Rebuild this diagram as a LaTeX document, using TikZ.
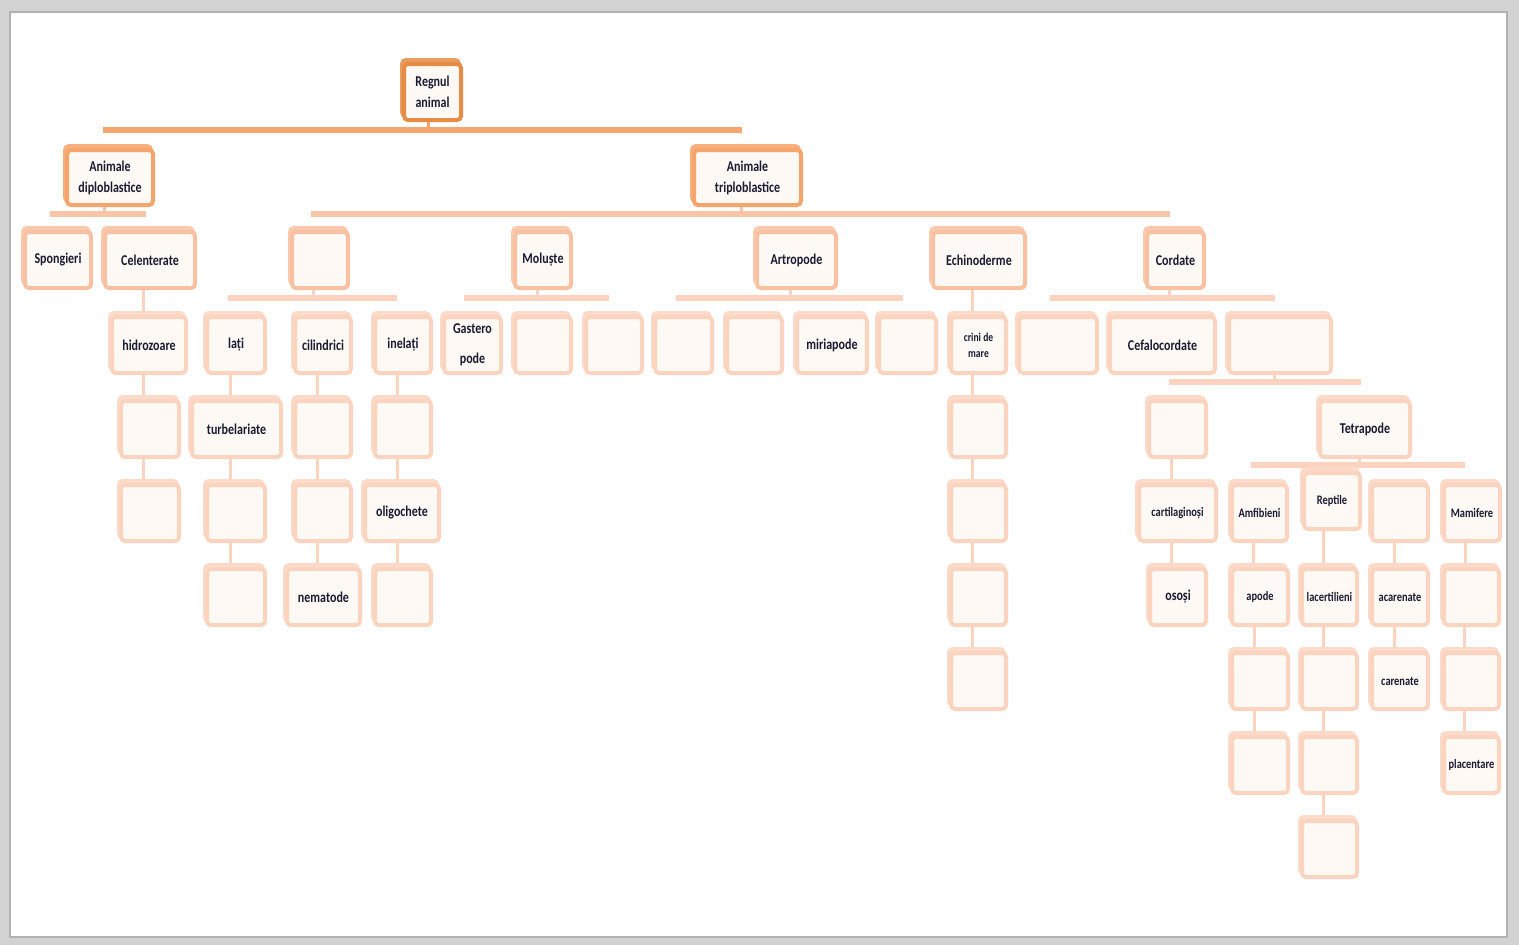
\documentclass[tikz,border=0pt]{standalone}
\usepackage{fontspec}
\setmainfont[FakeStretch=0.8]{Carlito}
\usepackage{tikz}
\usetikzlibrary{shadows}

\definecolor{c0}{HTML}{E58C46}
\definecolor{c0b}{HTML}{EC9B5E}
\definecolor{c1}{HTML}{F5A46C}
\definecolor{c1b}{HTML}{F7AF7E}
\definecolor{c2}{HTML}{F8C2A2}
\definecolor{c2b}{HTML}{FAC9AD}
\definecolor{c3}{HTML}{FBD4BF}
\definecolor{c3b}{HTML}{FCDACA}
\definecolor{boxfill}{HTML}{FFF9F5}
\definecolor{txt}{HTML}{1A1A30}
\definecolor{k0}{HTML}{F6A56E}
\definecolor{k1}{HTML}{F9C6A9}
\definecolor{k2}{HTML}{FBD3BE}
\definecolor{framegray}{HTML}{D2D2D2}
\definecolor{frameedge}{HTML}{B2B2B2}

\newcommand\lbl{\bfseries\fontsize{15}{18}\selectfont}
\newcommand\lbls{\bfseries\fontsize{13}{15.6}\selectfont}
\newcommand\lblxs{\bfseries\fontsize{12}{16}\selectfont}

\pgfdeclarelayer{bg}
\pgfsetlayers{bg,main}

\begin{document}
\begin{tikzpicture}[x=1pt, y=-1pt,
    box/.style={rounded corners=4pt, line width=4pt, inner sep=0pt, minimum width=56pt,
      minimum height=56pt, fill=boxfill, text=txt, font=\lbl, align=center},
    lv0/.style={box, draw=c0, copy shadow={shadow xshift=-2pt, shadow yshift=4pt, draw=c0b, fill=c0b}},
    lv1/.style={box, draw=c1, copy shadow={shadow xshift=-2pt, shadow yshift=4pt, draw=c1b, fill=c1b}},
    lv2/.style={box, draw=c2, copy shadow={shadow xshift=-2pt, shadow yshift=4pt, draw=c2b, fill=c2b}},
    lv3/.style={box, draw=c3, copy shadow={shadow xshift=-2pt, shadow yshift=4pt, draw=c3b, fill=c3b}},
    wd/.style={minimum width=#1pt},
    sm/.style={font=\lbls},
    bar0/.style={draw=k0, line width=6pt},
    bar1/.style={draw=k1, line width=6pt},
    bar2/.style={draw=k2, line width=6pt},
    st0/.style={draw=k0, line width=3pt},
    st1/.style={draw=k1, line width=3pt},
    st2/.style={draw=k2, line width=3pt}]
  \useasboundingbox (0,0) rectangle (1519,945);

  % top
  \node[lv0, wd=57] (regn) at (432.5,92) {Regnul\\[3pt]animal};
  \node[lv1, wd=86, minimum height=55pt] (diplo) at (110,177.5) {Animale\\[3pt]diploblastice};
  \node[lv1, wd=107, minimum height=55pt] (triplo) at (747.5,177.5) {Animale\\[3pt]triploblastice};

  % row 2
  \node[lv2, wd=66] (spong) at (58,260) {Spongieri};
  \node[lv2, wd=90] (celent) at (150,260) {Celenterate};
  \node[lv2] (gv) at (320,260) {};
  \node[lv2] (molus) at (543,260) {Moluște};
  \node[lv2, wd=79] (artro) at (796.5,260) {Artropode};
  \node[lv2, wd=92] (echino) at (979,260) {Echinoderme};
  \node[lv2, wd=57] (cord) at (1175.5,260) {Cordate};

  % row 3
  \node[lv3, wd=74] (hidro) at (149,345) {hidrozoare};
  \node[lv3, wd=58] (lati) at (236,345) {lați};
  \node[lv3] (cilin) at (323,345) {cilindrici};
  \node[lv3] (inel) at (403,345) {inelați};
  \node[lv3, wd=57] (gaster) at (472.5,345) {Gastero\\[12pt]pode};
  \node[lv3] (m1) at (543,345) {};
  \node[lv3] (m2) at (614,345) {};
  \node[lv3, wd=57] (a1) at (683.5,345) {};
  \node[lv3, wd=55] (a2) at (754.5,345) {};
  \node[lv3, wd=70] (miria) at (832,345) {miriapode};
  \node[lv3, wd=57] (a3) at (907.5,345) {};
  \node[lv3, wd=55, font=\lblxs] (crini) at (978.5,345) {crini de\\mare};
  \node[lv3, wd=78] (c1) at (1058,345) {};
  \node[lv3, wd=105] (cefalo) at (1162.5,345) {Cefalocordate};
  \node[lv3, wd=102] (c2) at (1280,345) {};

  % row 4
  \node[lv3, wd=58] (h1) at (150,429) {};
  \node[lv3, wd=89] (turb) at (236.5,429) {turbelariate};
  \node[lv3] (cil1) at (323,429) {};
  \node[lv3] (inel1) at (403,429) {};
  \node[lv3, wd=55] (ech1) at (978.5,429) {};
  \node[lv3, wd=57] (c2a) at (1177.5,429) {};
  \node[lv3, wd=90] (tetra) at (1365,429) {Tetrapode};

  % row 5
  \node[lv3, wd=58] (h2) at (150,513) {};
  \node[lv3, wd=58] (lat2) at (236,513) {};
  \node[lv3] (cil2) at (323,513) {};
  \node[lv3, wd=74] (oligo) at (402,513) {oligochete};
  \node[lv3, wd=55] (ech2) at (978.5,513) {};
  \node[lv3, wd=77, sm] (cartil) at (1177.5,513) {cartilaginoși};
  \node[lv3, wd=55, sm] (amfib) at (1259.5,513) {Amfibieni};
  \node[lv3, sm] (rept) at (1332,501) {Reptile};
  \node[lv3] (t3) at (1400,513) {};
  \node[lv3, sm] (mamif) at (1472,513) {Mamifere};

  % row 6
  \node[lv3, wd=58] (lat3) at (236,597) {};
  \node[lv3, wd=73] (nemat) at (323.5,597) {nematode};
  \node[lv3] (inel3) at (403,597) {};
  \node[lv3, wd=55] (ech3) at (978.5,597) {};
  \node[lv3] (ososi) at (1178,597) {osoși};
  \node[lv3, sm] (apode) at (1260,597) {apode};
  \node[lv3, wd=55, sm] (lacert) at (1329.5,597) {lacertilieni};
  \node[lv3, sm] (acar) at (1400,597) {acarenate};
  \node[lv3, wd=55] (mam1) at (1471.5,597) {};

  % row 7-9
  \node[lv3, wd=55] (ech4) at (978.5,681) {};
  \node[lv3] (amf2) at (1260,681) {};
  \node[lv3, wd=55] (rep2) at (1329.5,681) {};
  \node[lv3, sm] (caren) at (1400,681) {carenate};
  \node[lv3, wd=55] (mam2) at (1471.5,681) {};
  \node[lv3] (amf3) at (1260,765) {};
  \node[lv3, wd=55] (rep3) at (1329.5,765) {};
  \node[lv3, wd=55, sm] (placent) at (1471.5,765) {placentare};
  \node[lv3, wd=55] (rep4) at (1329.5,849) {};

  \begin{pgfonlayer}{bg}
    \fill[framegray] (0,0) rectangle (1519,945);
    \draw[fill=white, draw=frameedge, line width=2pt] (10,12) rectangle (1507,937);

    % bars
    \coordinate (k0l) at (103,130);  \coordinate (k0r) at (742,130);
    \coordinate (k1l) at (50,214);   \coordinate (k1r) at (146,214);
    \coordinate (k2l) at (311,214);  \coordinate (k2r) at (1170,214);
    \coordinate (k3l) at (228,298);  \coordinate (k3r) at (397,298);
    \coordinate (k4l) at (464,298);  \coordinate (k4r) at (609,298);
    \coordinate (k5l) at (676,298);  \coordinate (k5r) at (903,298);
    \coordinate (k6l) at (1050,298); \coordinate (k6r) at (1275,298);
    \coordinate (k7l) at (1169,382); \coordinate (k7r) at (1361,382);
    \coordinate (k8l) at (1251,465); \coordinate (k8r) at (1465,465);
    \draw[bar0] (k0l) -- (k0r);
    \draw[bar1] (k1l) -- (k1r);
    \draw[bar1] (k2l) -- (k2r);
    \draw[bar2] (k3l) -- (k3r);
    \draw[bar2] (k4l) -- (k4r);
    \draw[bar2] (k5l) -- (k5r);
    \draw[bar2] (k6l) -- (k6r);
    \draw[bar2] (k7l) -- (k7r);
    \draw[bar2] (k8l) -- (k8r);

    % stems to bars
    \draw[st0] ([xshift=-4pt]regn.south) -- ([xshift=-4pt]regn.south |- k0l);
    \draw[st1] ([xshift=-6pt]diplo.south) -- ([xshift=-6pt]diplo.south |- k1l);
    \draw[st1] ([xshift=-6pt]triplo.south) -- ([xshift=-6pt]triplo.south |- k2l);
    \draw[st2] ([xshift=-7pt]gv.south) -- ([xshift=-7pt]gv.south |- k3l);
    \draw[st2] ([xshift=-6pt]molus.south) -- ([xshift=-6pt]molus.south |- k4l);
    \draw[st2] ([xshift=-6pt]artro.south) -- ([xshift=-6pt]artro.south |- k5l);
    \draw[st2] ([xshift=-6pt]cord.south) -- ([xshift=-6pt]cord.south |- k6l);
    \draw[st2] ([xshift=-6pt]c2.south) -- ([xshift=-6pt]c2.south |- k7l);
    \draw[st2] ([xshift=-6pt]tetra.south) -- ([xshift=-6pt]tetra.south |- k8l);

    % stems between boxes
    \draw[st2] ([xshift=-7pt]celent.south) -- ([xshift=-7pt]celent.south |- hidro.north);
    \draw[st2] ([xshift=-6pt]hidro.south) -- ([xshift=-6pt]hidro.south |- h1.north);
    \draw[st2] ([xshift=-7pt]h1.south) -- ([xshift=-7pt]h1.south |- h2.north);
    \draw[st2] ([xshift=-6pt]lati.south) -- ([xshift=-6pt]lati.south |- turb.north);
    \draw[st2] ([xshift=-6pt]lati.south |- turb.south) -- ([xshift=-6pt]lati.south |- lat2.north);
    \draw[st2] ([xshift=-6pt]lat2.south) -- ([xshift=-6pt]lat2.south |- lat3.north);
    \draw[st2] ([xshift=-6pt]cilin.south) -- ([xshift=-6pt]cilin.south |- cil1.north);
    \draw[st2] ([xshift=-6pt]cil1.south) -- ([xshift=-6pt]cil1.south |- cil2.north);
    \draw[st2] ([xshift=-6pt]cil2.south) -- ([xshift=-6pt]cil2.south |- nemat.north);
    \draw[st2] ([xshift=-6pt]inel.south) -- ([xshift=-6pt]inel.south |- inel1.north);
    \draw[st2] ([xshift=-6pt]inel1.south) -- ([xshift=-6pt]inel1.south |- oligo.north);
    \draw[st2] ([xshift=-6pt]inel1.south |- oligo.south) -- ([xshift=-6pt]inel1.south |- inel3.north);
    \draw[st2] ([xshift=-7pt]echino.south) -- ([xshift=-7pt]echino.south |- crini.north);
    \draw[st2] ([xshift=-6pt]crini.south) -- ([xshift=-6pt]crini.south |- ech1.north);
    \draw[st2] ([xshift=-6pt]ech1.south) -- ([xshift=-6pt]ech1.south |- ech2.north);
    \draw[st2] ([xshift=-6pt]ech2.south) -- ([xshift=-6pt]ech2.south |- ech3.north);
    \draw[st2] ([xshift=-6pt]ech3.south) -- ([xshift=-6pt]ech3.south |- ech4.north);
    \draw[st2] ([xshift=-6pt]c2a.south) -- ([xshift=-6pt]c2a.south |- cartil.north);
    \draw[st2] ([xshift=-6pt]cartil.south) -- ([xshift=-6pt]cartil.south |- ososi.north);
    \draw[st2] ([xshift=-6pt]amfib.south) -- ([xshift=-6pt]amfib.south |- apode.north);
    \draw[st2] ([xshift=-6pt]apode.south) -- ([xshift=-6pt]apode.south |- amf2.north);
    \draw[st2] ([xshift=-6pt]amf2.south) -- ([xshift=-6pt]amf2.south |- amf3.north);
    \draw[st2] ([xshift=-9pt]rept.south) -- ([xshift=-9pt]rept.south |- lacert.north);
    \draw[st2] ([xshift=-6pt]lacert.south) -- ([xshift=-6pt]lacert.south |- rep2.north);
    \draw[st2] ([xshift=-6pt]rep2.south) -- ([xshift=-6pt]rep2.south |- rep3.north);
    \draw[st2] ([xshift=-6pt]rep3.south) -- ([xshift=-6pt]rep3.south |- rep4.north);
    \draw[st2] ([xshift=-6pt]t3.south) -- ([xshift=-6pt]t3.south |- acar.north);
    \draw[st2] ([xshift=-6pt]acar.south) -- ([xshift=-6pt]acar.south |- caren.north);
    \draw[st2] ([xshift=-7pt]mamif.south) -- ([xshift=-7pt]mamif.south |- mam1.north);
    \draw[st2] ([xshift=-7pt]mam1.south) -- ([xshift=-7pt]mam1.south |- mam2.north);
    \draw[st2] ([xshift=-7pt]mam2.south) -- ([xshift=-7pt]mam2.south |- placent.north);
  \end{pgfonlayer}
\end{tikzpicture}
\end{document}
